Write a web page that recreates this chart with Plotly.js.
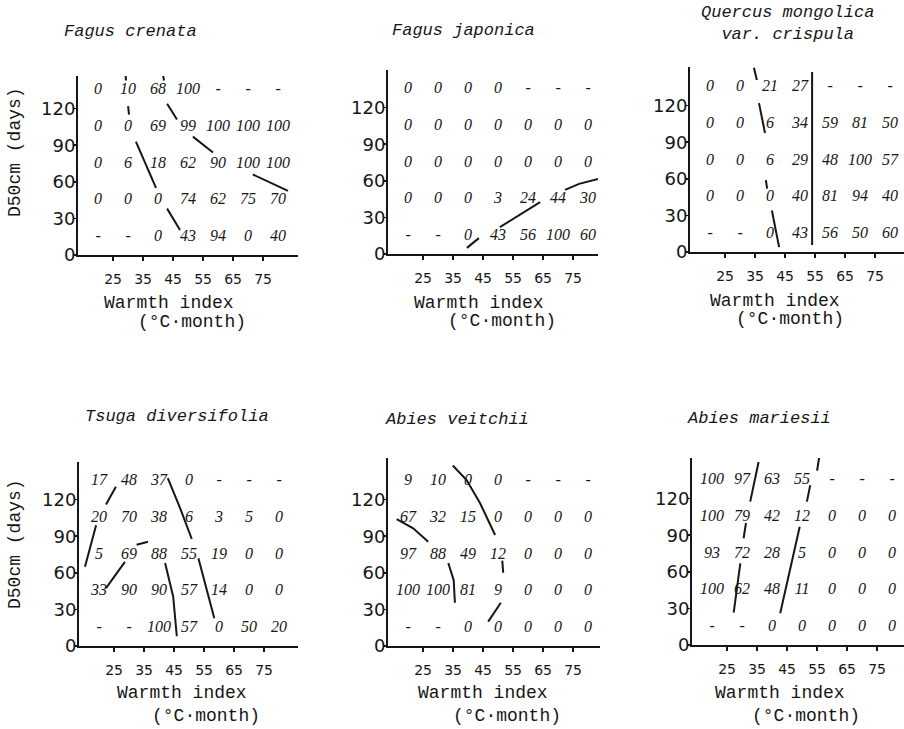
<!DOCTYPE html>
<html><head><meta charset="utf-8">
<script src="https://cdn.plot.ly/plotly-3.0.1.min.js"></script>
<style>body{margin:0;background:#fff}#chart{width:904px;height:729px}</style>
</head><body><div id="chart"></div>
<script>
// ---- data ----
const warmth = [20, 30, 40, 50, 60, 70, 80];     // column centres (warmth index)
const d50 = [135, 105, 75, 45, 15];              // row centres (D50cm days)
const xTickVals = [25, 35, 45, 55, 65, 75];
const yTickVals = [0, 30, 60, 90, 120];

const speciesNames = ['Fagus crenata', 'Fagus japonica', 'Quercus mongolica<br>var. crispula',
                      'Tsuga diversifolia', 'Abies veitchii', 'Abies mariesii'];

const fagusCrenata = [
  ['0','10','68','100','-','-','-'],
  ['0','0','69','99','100','100','100'],
  ['0','6','18','62','90','100','100'],
  ['0','0','0','74','62','75','70'],
  ['-','-','0','43','94','0','40']];
const fagusJaponica = [
  ['0','0','0','0','-','-','-'],
  ['0','0','0','0','0','0','0'],
  ['0','0','0','0','0','0','0'],
  ['0','0','0','3','24','44','30'],
  ['-','-','0','43','56','100','60']];
const quercus = [
  ['0','0','21','27','-','-','-'],
  ['0','0','6','34','59','81','50'],
  ['0','0','6','29','48','100','57'],
  ['0','0','0','40','81','94','40'],
  ['-','-','0','43','56','50','60']];
const tsuga = [
  ['17','48','37','0','-','-','-'],
  ['20','70','38','6','3','5','0'],
  ['5','69','88','55','19','0','0'],
  ['33','90','90','57','14','0','0'],
  ['-','-','100','57','0','50','20']];
const abiesVeitchii = [
  ['9','10','0','0','-','-','-'],
  ['67','32','15','0','0','0','0'],
  ['97','88','49','12','0','0','0'],
  ['100','100','81','9','0','0','0'],
  ['-','-','0','0','0','0','0']];
const abiesMariesii = [
  ['100','97','63','55','-','-','-'],
  ['100','79','42','12','0','0','0'],
  ['93','72','28','5','0','0','0'],
  ['100','62','48','11','0','0','0'],
  ['-','-','0','0','0','0','0']];

// boundary lines (warmth index, days); null separates pieces
const fcLineX = [29,29.3,null,30,30.3,null,32.6,39.3,null,43,47.3, null, 41.6,42,null,43,46.3,null,51.6,58.3,null,71.6,83.3];
const fcLineY = [152,143,null,122,115,null,93,55,null,38,20.5, null, 148,143,null,124,111,null,97,84,null,66,52.5];
const fjLineX = [39.6,43.6,null,50.6,64,null,72.3,77,83.3];
const fjLineY = [5,13,null,22,42.6,null,52.5,57.5,61.5];
const qmLineX = [54,54,null,34.6,35.6,null,36.3,38.3,null,38.6,39,null,40.6,43];
const qmLineY = [147.5,5.7,null,151,141,null,122,97.5,null,59,52,null,34,4];
const tdLineX = [22.3,25.6,null,19,15.3,null,32.5,36.3,null,22.3,28.6,null,42.9,47,50.9,null,42,44.7,45.9,null,53.1,58.4];
const tdLineY = [116,130.6,null,99,65,null,83,85.5,null,47.5,69,null,137.7,113,87.7,null,68,40.4,8,null,72,22.7];
const avLineX = [34.9,39.5,44,49,null,16.2,21.7,26.7,null,33.4,35.2,35.6,null,51.4,51.7,null,50.9,49,46.7];
const avLineY = [148,136,117,91,null,104,96.5,85.5,null,68,54,35.5,null,70,60,null,35.5,28,20];
const amLineX = [35.5,32.7,null,31.3,30.5,null,29.4,27.2,null,55.7,55,null,52.7,51.6,null,49.2,42.7];
const amLineY = [150,117.5,null,100,87.5,null,67,26.5,null,154,143,null,131,117.5,null,97,26];

const grids = [fagusCrenata, fagusJaponica, quercus, tsuga, abiesVeitchii, abiesMariesii];
const linesX = [fcLineX, fjLineX, qmLineX, tdLineX, avLineX, amLineX];
const linesY = [fcLineY, fjLineY, qmLineY, tdLineY, avLineY, amLineY];

// ---- layout geometry (pixels) ----
const W = 904, H = 729;
const panels = [
  {l:78, r:298, b:255, t:76, title:[130,32], xt:[169,303], xu:[192,322]},
  {l:388, r:598, b:254, t:70, title:[463,31], xt:[479,303], xu:[502,321]},
  {l:690, r:904, b:252, t:67, title:[787,24], xt:[775,301], xu:[790,319]},
  {l:79, r:298, b:646, t:462, title:[177,417], xt:[182,693], xu:[206,716]},
  {l:388, r:600, b:646, t:458, title:[457,419], xt:[483,693], xu:[507,716]},
  {l:692, r:904, b:645, t:458, title:[759,418], xt:[780,693], xu:[806,716]}];
const pxX = 3.0, pxY = 1.22, x0 = 13.3;
const px = v => v / W, py = v => 1 - v / H;

const ink = '#161616';
const traces = [];
const layout = {width: W, height: H, margin:{l:0,r:0,t:0,b:0}, showlegend:false,
  paper_bgcolor:'#fff', plot_bgcolor:'rgba(0,0,0,0)', annotations: []};

panels.forEach((p, i) => {
  const n = i + 1, xa = n === 1 ? 'x' : 'x' + n, ya = n === 1 ? 'y' : 'y' + n;
  const xs = [], ys = [], ts = [];
  grids[i].forEach((row, r) => row.forEach((v, c) => { xs.push(warmth[c]); ys.push(d50[r]); ts.push(v); }));
  traces.push({type:'scatter', mode:'text', x:xs, y:ys, text:ts, xaxis:xa, yaxis:ya,
    cliponaxis:false, hoverinfo:'skip',
    textfont:{family:'Liberation Sans Narrow, Liberation Serif, serif', size:16, style:'italic', color:ink}});
  traces.push({type:'scatter', mode:'lines', x:linesX[i], y:linesY[i], xaxis:xa, yaxis:ya,
    connectgaps:false, line:{color:ink, width:2}, hoverinfo:'skip'});
  layout['xaxis' + (n === 1 ? '' : n)] = {domain:[px(p.l), px(p.r)], anchor:ya,
    range:[x0, x0 + (p.r - p.l) / pxX], tickvals:xTickVals, ticks:'outside', ticklen:4, tickwidth:1.5,
    tickcolor:ink, showline:true, linecolor:ink, linewidth:1.5, showgrid:false, zeroline:false,
    ticklabelstandoff:7, tickfont:{family:'DejaVu Sans, sans-serif', size:14, color:ink}};
  layout['yaxis' + (n === 1 ? '' : n)] = {domain:[py(p.b), py(p.t)], anchor:xa,
    range:[0, (p.b - p.t) / pxY], tickvals:yTickVals, ticks:'outside', ticklen:2, tickwidth:1.5,
    tickcolor:ink, showline:true, linecolor:ink, linewidth:2, showgrid:false, zeroline:false,
    ticklabelstandoff:-5, tickfont:{family:'DejaVu Sans, sans-serif', size:18, color:ink}};
  const mono = {family:'Liberation Mono, DejaVu Sans Mono, monospace', size:18, color:ink};
  layout.annotations.push({xref:'paper', yref:'paper', x:px(p.title[0]), y:py(p.title[1]),
    text:speciesNames[i], showarrow:false, xanchor:'center', yanchor:'middle', align:'center',
    font:Object.assign({}, mono, {size:17, style:'italic'})});
  layout.annotations.push({xref:'paper', yref:'paper', x:px(p.xt[0]), y:py(p.xt[1]),
    text:'Warmth index', showarrow:false, xanchor:'center', yanchor:'middle', font:mono});
  layout.annotations.push({xref:'paper', yref:'paper', x:px(p.xu[0]), y:py(p.xu[1]),
    text:'(°C·month)', showarrow:false, xanchor:'center', yanchor:'middle', font:mono});
  if (i === 0 || i === 3) {
    layout.annotations.push({xref:'paper', yref:'paper', x:px(15), y:py(i === 0 ? 152 : 544),
      text:'D50cm (days)', showarrow:false, textangle:-90, xanchor:'center', yanchor:'middle', font:mono});
  }
});

Plotly.newPlot('chart', traces, layout, {staticPlot:true, displayModeBar:false});
</script></body></html>
